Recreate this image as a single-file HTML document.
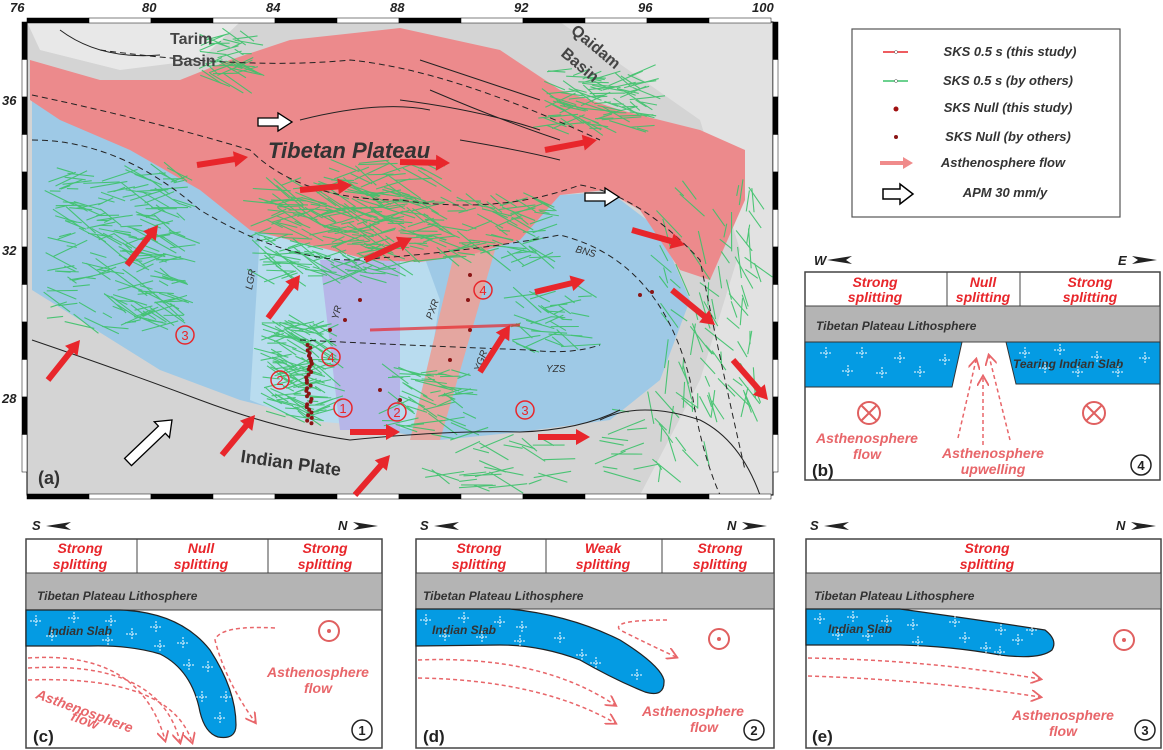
<!DOCTYPE html>
<html><head><meta charset="utf-8"><style>
html,body{margin:0;padding:0;background:#fff}
svg{display:block}
text{font-family:"Liberation Sans",sans-serif}
.r{fill:#e8262b;font-weight:bold;font-style:italic;font-size:14px;text-anchor:middle}
.lg{fill:#333;font-weight:bold;font-style:italic;font-size:13px;text-anchor:middle}
.tl{fill:#333;font-style:italic;font-weight:bold;font-size:12px}
.pk{fill:#e8666a;font-style:italic;font-weight:bold;font-size:14px;text-anchor:middle}
.ax{font-weight:bold;font-style:italic;font-size:13px;fill:#222}
</style></head><body>
<svg id="s" width="1163" height="750" viewBox="0 0 1163 750" xmlns="http://www.w3.org/2000/svg">
<defs>
<marker id="da" markerWidth="8" markerHeight="8" refX="6" refY="4" orient="auto"><path d="M0,0 L7,4 L0,8" fill="none" stroke="#e8666a" stroke-width="1.2"/></marker>
<clipPath id="mc"><rect x="27" y="22" width="746" height="473"/></clipPath>
</defs>
<g clip-path="url(#mc)">
<rect x="27" y="22" width="746" height="473" fill="#d4d4d4"/>
<path d="M27,22 L240,22 L200,60 L120,70 L40,50 Z" fill="#e8e8e8"/>
<path d="M560,22 L773,22 L773,495 L640,495 L700,380 L740,250 L700,120 Z" fill="#e2e2e2"/>
<path d="M32,100 L130,140 L200,165 L260,230 L350,235 L420,240 L480,225 L520,210 L560,195 L610,192 L660,230 L690,300 L660,380 L610,420 L520,432 L440,440 L380,430 L320,420 L240,400 L160,370 L80,320 L32,290 Z" fill="#9ec9e6"/>
<path d="M260,235 L420,245 L440,300 L420,430 L300,420 L250,400 Z" fill="#b9dcef"/>
<path d="M320,260 L400,260 L400,430 L340,430 Z" fill="#b6b6e8"/>
<path d="M455,250 L495,250 L440,440 L410,440 Z" fill="#e4a6a0"/>
<path d="M30,60 L100,80 L180,80 L230,60 L290,40 L400,28 L500,50 L560,90 L620,110 L700,130 L745,150 L745,200 L710,280 L680,270 L640,210 L605,190 L560,195 L520,240 L470,255 L420,262 L370,260 L310,245 L250,230 L200,190 L130,150 L60,120 L30,100 Z" fill="#ec8a8c"/>
<g id="green" stroke="#3cc26a" stroke-width="1.1" opacity="0.9"></g>
<g fill="none" stroke="#222" stroke-width="1">
<path d="M32,95 Q150,120 250,150 Q300,200 400,200 Q500,215 580,185 Q640,195 700,260 Q720,360 745,470" stroke-dasharray="6,4"/>
<path d="M32,140 Q120,140 200,210 Q300,270 380,258 Q480,250 560,235 Q660,260 690,380 Q700,450 720,495" stroke-dasharray="6,4"/>
<path d="M100,50 Q250,70 350,60 Q450,70 600,140" stroke-dasharray="6,4"/>
<path d="M32,340 Q120,370 200,400 Q280,430 350,440 Q450,430 520,432 Q580,430 620,410" />
<path d="M300,340 Q400,345 530,350 Q570,355 600,345" stroke-dasharray="6,4"/>
<path d="M600,420 Q640,400 700,420 Q740,440 760,495"/>
<path d="M60,30 Q100,60 160,55 M420,60 Q480,80 540,100 M430,90 Q500,120 560,140 M400,100 Q480,110 540,130 M300,120 Q380,100 430,110 M460,140 Q520,150 560,160"/>
</g>
</g>
<rect x="27" y="22" width="746" height="473" fill="none" stroke="#000" stroke-width="1"/>
<g id="ticks"></g>
<g class="ax">
<text x="10" y="12">76</text><text x="142" y="12">80</text><text x="266" y="12">84</text><text x="390" y="12">88</text><text x="514" y="12">92</text><text x="638" y="12">96</text><text x="752" y="12">100</text>
<text x="2" y="105">36</text><text x="2" y="255">32</text><text x="2" y="403">28</text>
</g>
<g fill="#444" font-weight="bold" font-size="16">
<text x="170" y="44">Tarim</text><text x="172" y="66">Basin</text>
<text transform="translate(570,32) rotate(40)">Qaidam</text><text transform="translate(560,55) rotate(40)">Basin</text>
<text x="268" y="158" font-size="22" font-style="italic" fill="#333">Tibetan Plateau</text>
<text transform="translate(240,462) rotate(8)" font-size="18" fill="#333">Indian Plate</text>
<text x="38" y="484" font-size="18" fill="#333">(a)</text>
</g>
<g fill="#333" font-size="10" font-style="italic">
<text x="575" y="252" transform="rotate(15 575 252)">BNS</text><text x="546" y="372">YZS</text>
<text transform="translate(252,290) rotate(-80)">LGR</text><text transform="translate(338,320) rotate(-75)">YR</text>
<text transform="translate(432,320) rotate(-70)">PXR</text><text transform="translate(480,372) rotate(-70)">YGR</text>
</g>
<g id="arrows"></g>
<g fill="none" stroke="#e8262b" stroke-width="1.5">
<circle cx="185" cy="335" r="9"/><circle cx="280" cy="380" r="9"/><circle cx="331" cy="357" r="9"/><circle cx="343" cy="408" r="9"/><circle cx="397" cy="412" r="9"/><circle cx="483" cy="290" r="9"/><circle cx="525" cy="410" r="9"/>
</g>
<g fill="#e8262b" font-size="13" text-anchor="middle">
<text x="185" y="340">3</text><text x="280" y="385">2</text><text x="331" y="362">4</text><text x="343" y="413">1</text><text x="397" y="417">2</text><text x="483" y="295">4</text><text x="525" y="415">3</text>
</g>
<g fill="#8a1515" id="dots"></g>
<path d="M370,330 L520,325" stroke="#e8262b" stroke-width="3" opacity="0.7"/>
<rect x="852" y="29" width="268" height="188" fill="#fff" stroke="#555" stroke-width="1.2"/>
<line x1="883" y1="52" x2="908" y2="52" stroke="#e8262b" stroke-width="1.5"/><circle cx="896" cy="52" r="1.5" fill="#fff" stroke="#555" stroke-width="0.5"/>
<line x1="883" y1="81" x2="908" y2="81" stroke="#3cc26a" stroke-width="1.5"/><circle cx="896" cy="81" r="1.5" fill="#fff" stroke="#555" stroke-width="0.5"/>
<circle cx="896" cy="109" r="2.5" fill="#a01010"/><circle cx="896" cy="137" r="2" fill="#8a1515"/>
<path d="M880,161 L903,161 L903,157 L913,163 L903,169 L903,165 L880,165 Z" fill="#f08b8b"/>
<path d="M883,189 L900,189 L900,184 L913,194 L900,204 L900,199 L883,199 Z" fill="#fff" stroke="#000" stroke-width="1.5"/>
<g class="lg"><text x="1010" y="56">SKS  0.5 s (this study)</text><text x="1008" y="85">SKS 0.5 s (by others)</text><text x="1008" y="112">SKS Null (this study)</text><text x="1008" y="141">SKS Null (by others)</text><text x="1003" y="167">Asthenosphere flow</text><text x="1005" y="197">APM 30 mm/y</text></g>
<g>
<text x="814" y="265" class="ax" font-style="normal" font-size="13">W</text><path d="M827,260 L852,256 L846,260 L852,264 Z" fill="#222"/>
<text x="1118" y="265" class="ax" font-style="normal" font-size="13">E</text><path d="M1132,256 L1157,260 L1132,264 L1138,260 Z" fill="#222"/>
<rect x="805" y="272" width="355" height="208" fill="#fff" stroke="#444" stroke-width="1.5"/>
<line x1="805" y1="306" x2="1160" y2="306" stroke="#444"/><line x1="947" y1="272" x2="947" y2="306" stroke="#444"/><line x1="1020" y1="272" x2="1020" y2="306" stroke="#444"/>
<text x="875" y="287" class="r">Strong</text><text x="875" y="302" class="r">splitting</text>
<text x="983" y="287" class="r">Null</text><text x="983" y="302" class="r">splitting</text>
<text x="1090" y="287" class="r">Strong</text><text x="1090" y="302" class="r">splitting</text>
<rect x="805" y="306" width="355" height="36" fill="#b4b4b4" stroke="#444"/>
<text x="816" y="330" class="tl">Tibetan Plateau Lithosphere</text>
<path d="M805,342 L962,342 L952,387 L805,387 Z" fill="#049be3" stroke="#333"/>
<path d="M1006,342 L1160,342 L1160,384 L1016,384 Z" fill="#049be3" stroke="#333"/>
<text x="1013" y="368" class="tl" fill="#222">Tearing Indian Slab</text>
<g fill="none" stroke="#e8666a" stroke-width="1.5" stroke-dasharray="4,3" marker-end="url(#da)"><path d="M958,438 L976,360"/><path d="M983,445 L983,377"/><path d="M1010,440 L989,356"/></g>
<g fill="none" stroke="#e06060" stroke-width="2"><circle cx="869" cy="413" r="11"/><path d="M861,405 L877,421 M877,405 L861,421"/><circle cx="1094" cy="413" r="11"/><path d="M1086,405 L1102,421 M1102,405 L1086,421"/></g>
<text x="867" y="443" class="pk">Asthenosphere</text><text x="867" y="459" class="pk">flow</text>
<text x="993" y="458" class="pk">Asthenosphere</text><text x="993" y="474" class="pk">upwelling</text>
<text x="812" y="476" font-size="17" font-weight="bold" fill="#222">(b)</text>
<circle cx="1141" cy="465" r="10" fill="none" stroke="#222" stroke-width="1.5"/><text x="1141" y="470" font-size="13" font-weight="bold" text-anchor="middle" fill="#222">4</text>
</g>
<g>
<text x="32" y="530" class="ax" font-style="normal">S</text><path d="M46,526 L71,522 L65,526 L71,530 Z" fill="#222"/>
<text x="338" y="530" class="ax" font-style="normal">N</text><path d="M353,522 L378,526 L353,530 L359,526 Z" fill="#222"/>
<rect x="26" y="539" width="356" height="209" fill="#fff" stroke="#444" stroke-width="1.5"/>
<line x1="26" y1="573" x2="382" y2="573" stroke="#444"/><line x1="137" y1="539" x2="137" y2="573" stroke="#444"/><line x1="268" y1="539" x2="268" y2="573" stroke="#444"/>
<text x="80" y="553" class="r">Strong</text><text x="80" y="569" class="r">splitting</text>
<text x="201" y="553" class="r">Null</text><text x="201" y="569" class="r">splitting</text>
<text x="325" y="553" class="r">Strong</text><text x="325" y="569" class="r">splitting</text>
<rect x="26" y="573" width="356" height="37" fill="#b4b4b4" stroke="#444"/>
<text x="37" y="600" class="tl">Tibetan Plateau Lithosphere</text>
<path d="M26,610 L120,610 Q180,612 210,650 Q236,690 236,725 Q236,740 218,737 Q205,733 200,712 Q192,670 160,654 Q130,645 90,646 L26,646 Z" fill="#049be3" stroke="#222" stroke-width="1.2"/>
<text x="48" y="635" class="tl" fill="#222">Indian Slab</text>
<g fill="none" stroke="#e8666a" stroke-width="1.5" stroke-dasharray="4,3" marker-end="url(#da)">
<path d="M28,658 Q140,650 165,740"/><path d="M28,668 Q160,660 180,742"/><path d="M28,680 Q170,675 192,742"/>
<path d="M275,628 Q220,625 215,640 Q225,680 255,722"/></g>
<circle cx="329" cy="631" r="10" fill="none" stroke="#e06060" stroke-width="2"/><circle cx="329" cy="631" r="2" fill="#e06060"/>
<text x="318" y="677" class="pk">Asthenosphere</text><text x="318" y="693" class="pk">flow</text>
<text transform="translate(35,698) rotate(20)" class="pk" style="text-anchor:start">Asthenosphere</text>
<text transform="translate(70,720) rotate(20)" class="pk" style="text-anchor:start">flow</text>
<text x="33" y="742" font-size="17" font-weight="bold" fill="#222">(c)</text>
<circle cx="362" cy="730" r="10" fill="none" stroke="#222" stroke-width="1.5"/><text x="362" y="735" font-size="13" font-weight="bold" text-anchor="middle" fill="#222">1</text>
</g>
<g>
<text x="420" y="530" class="ax" font-style="normal">S</text><path d="M434,526 L459,522 L453,526 L459,530 Z" fill="#222"/>
<text x="727" y="530" class="ax" font-style="normal">N</text><path d="M742,522 L767,526 L742,530 L748,526 Z" fill="#222"/>
<rect x="416" y="539" width="358" height="209" fill="#fff" stroke="#444" stroke-width="1.5"/>
<line x1="416" y1="573" x2="774" y2="573" stroke="#444"/><line x1="546" y1="539" x2="546" y2="573" stroke="#444"/><line x1="662" y1="539" x2="662" y2="573" stroke="#444"/>
<text x="479" y="553" class="r">Strong</text><text x="479" y="569" class="r">splitting</text>
<text x="603" y="553" class="r">Weak</text><text x="603" y="569" class="r">splitting</text>
<text x="720" y="553" class="r">Strong</text><text x="720" y="569" class="r">splitting</text>
<rect x="416" y="573" width="358" height="36" fill="#b4b4b4" stroke="#444"/>
<text x="423" y="600" class="tl">Tibetan Plateau Lithosphere</text>
<path d="M416,609 L510,609 Q570,615 620,640 Q660,665 664,680 Q665,698 645,692 Q615,680 580,660 Q540,645 500,645 L416,646 Z" fill="#049be3" stroke="#222" stroke-width="1.2"/>
<text x="432" y="634" class="tl" fill="#222">Indian Slab</text>
<g fill="none" stroke="#e8666a" stroke-width="1.5" stroke-dasharray="4,3" marker-end="url(#da)">
<path d="M418,660 Q540,655 615,705"/><path d="M418,678 Q540,680 615,723"/><path d="M667,620 Q610,620 620,630 Q650,645 676,657"/></g>
<circle cx="719" cy="639" r="10" fill="none" stroke="#e06060" stroke-width="2"/><circle cx="719" cy="639" r="2" fill="#e06060"/>
<text x="693" y="716" class="pk">Asthenosphere</text><text x="704" y="732" class="pk">flow</text>
<text x="423" y="742" font-size="17" font-weight="bold" fill="#222">(d)</text>
<circle cx="754" cy="730" r="10" fill="none" stroke="#222" stroke-width="1.5"/><text x="754" y="735" font-size="13" font-weight="bold" text-anchor="middle" fill="#222">2</text>
</g>
<g>
<text x="810" y="530" class="ax" font-style="normal">S</text><path d="M824,526 L849,522 L843,526 L849,530 Z" fill="#222"/>
<text x="1116" y="530" class="ax" font-style="normal">N</text><path d="M1131,522 L1156,526 L1131,530 L1137,526 Z" fill="#222"/>
<rect x="806" y="539" width="355" height="209" fill="#fff" stroke="#444" stroke-width="1.5"/>
<line x1="806" y1="573" x2="1161" y2="573" stroke="#444"/>
<text x="987" y="553" class="r">Strong</text><text x="987" y="569" class="r">splitting</text>
<rect x="806" y="573" width="355" height="36" fill="#b4b4b4" stroke="#444"/>
<text x="814" y="600" class="tl">Tibetan Plateau Lithosphere</text>
<path d="M806,609 L900,609 Q980,620 1045,630 Q1058,640 1052,650 Q1040,660 1000,655 Q950,646 900,645 L806,645 Z" fill="#049be3" stroke="#222" stroke-width="1.2"/>
<text x="828" y="633" class="tl" fill="#222">Indian Slab</text>
<g fill="none" stroke="#e8666a" stroke-width="1.5" stroke-dasharray="4,3" marker-end="url(#da)">
<path d="M808,658 Q930,660 1040,679"/><path d="M808,676 Q930,680 1040,697"/></g>
<circle cx="1124" cy="640" r="10" fill="none" stroke="#e06060" stroke-width="2"/><circle cx="1124" cy="640" r="2" fill="#e06060"/>
<text x="1063" y="720" class="pk">Asthenosphere</text><text x="1063" y="736" class="pk">flow</text>
<text x="812" y="742" font-size="17" font-weight="bold" fill="#222">(e)</text>
<circle cx="1145" cy="730" r="10" fill="none" stroke="#222" stroke-width="1.5"/><text x="1145" y="735" font-size="13" font-weight="bold" text-anchor="middle" fill="#222">3</text>
</g>
<g id="crosses" stroke="#fff" stroke-width="1" stroke-dasharray="2,1"></g>
</svg>
<script>
var NS="http://www.w3.org/2000/svg";
function el(p,t,a){var e=document.createElementNS(NS,t);for(var k in a)e.setAttribute(k,a[k]);document.getElementById(p).appendChild(e);return e;}
var seed=7;function rnd(){seed=(seed*16807)%2147483647;return seed/2147483647;}
var clusters=[[120,250,65,80,200],[230,60,20,25,40],[330,230,70,50,180],[300,370,30,50,120],[600,100,50,30,90],[480,230,70,30,100],[430,400,40,30,50],[710,300,50,110,80],[380,200,60,40,70],[550,320,40,30,40],[500,460,60,30,30],[680,440,70,40,30]];
clusters.forEach(function(c){for(var i=0;i<c[4];i++){var x=c[0]+(rnd()-0.5)*2*c[2],y=c[1]+(rnd()-0.5)*2*c[3];var a=(rnd()-0.5)*1.2+(x>650?1.2:0.15),l=10+rnd()*30;el("green","line",{x1:x-Math.cos(a)*l/2,y1:y-Math.sin(a)*l/2,x2:x+Math.cos(a)*l/2,y2:y+Math.sin(a)*l/2});}});
for(var i=0;i<30;i++){el("dots","circle",{cx:306+rnd()*6,cy:345+i*2.7,r:2});}
[[470,275],[468,300],[450,360],[640,295],[652,292],[330,330],[345,320],[360,300],[380,390],[400,400],[470,330]].forEach(function(p){el("dots","circle",{cx:p[0],cy:p[1],r:2});});
var A=[[197,165,248,157],[300,190,352,185],[400,162,450,163],[545,150,597,140],[268,318,300,275],[127,265,158,225],[365,260,412,238],[48,380,80,340],[222,455,255,415],[355,495,390,455],[350,432,400,432],[538,437,590,437],[535,292,585,280],[480,372,510,325],[632,230,685,245],[672,290,715,325],[733,360,768,400]];
A.forEach(function(a){var dx=a[2]-a[0],dy=a[3]-a[1],L=Math.hypot(dx,dy),ux=dx/L,uy=dy/L,nx=-uy,ny=ux,h=14,w=3,W=8;var bx=a[2]-ux*h,by=a[3]-uy*h;
var pts=[[a[0]+nx*w,a[1]+ny*w],[bx+nx*w,by+ny*w],[bx+nx*W,by+ny*W],[a[2],a[3]],[bx-nx*W,by-ny*W],[bx-nx*w,by-ny*w],[a[0]-nx*w,a[1]-ny*w]];
el("arrows","polygon",{points:pts.map(function(p){return p.join(",")}).join(" "),fill:"#e8262b"});});
[[258,122,292,122,4,9],[585,197,619,197,4,9],[128,462,172,420,5,11]].forEach(function(a){var dx=a[2]-a[0],dy=a[3]-a[1],L=Math.hypot(dx,dy),ux=dx/L,uy=dy/L,nx=-uy,ny=ux,h=14,w=a[4],W=a[5];var bx=a[2]-ux*h,by=a[3]-uy*h;
var pts=[[a[0]+nx*w,a[1]+ny*w],[bx+nx*w,by+ny*w],[bx+nx*W,by+ny*W],[a[2],a[3]],[bx-nx*W,by-ny*W],[bx-nx*w,by-ny*w],[a[0]-nx*w,a[1]-ny*w]];
el("arrows","polygon",{points:pts.map(function(p){return p.join(",")}).join(" "),fill:"#fff",stroke:"#000","stroke-width":"1.3"});});
for(var i=0;i<12;i++){var x=27+i*62;var f=i%2==0?"#000":"#fff";el("ticks","rect",{x:x,y:18,width:62,height:5,fill:f,stroke:"#000","stroke-width":0.5});el("ticks","rect",{x:x,y:494,width:62,height:5,fill:f,stroke:"#000","stroke-width":0.5});}
for(var j=0;j<13;j++){var y=22+j*37.5;if(y+37>499)break;var f=j%2==0?"#000":"#fff";el("ticks","rect",{x:22,y:y,width:5,height:37.5,fill:f,stroke:"#000","stroke-width":0.5});el("ticks","rect",{x:773,y:y,width:5,height:37.5,fill:f,stroke:"#000","stroke-width":0.5});}
[[826,353],[862,353],[900,358],[945,360],[848,371],[882,373],[920,372],[1025,353],[1060,350],[1097,357],[1145,358],[1045,368],[1078,372],[1118,372],
[36,621],[74,618],[111,621],[52,636],[108,640],[132,634],[156,627],[160,646],[183,643],[189,665],[208,667],[202,697],[226,697],[220,718],
[426,620],[464,618],[500,622],[445,636],[482,637],[522,627],[520,641],[560,638],[582,655],[560,672],[596,663],[597,683],[637,675],[638,697],
[820,619],[853,617],[887,621],[838,635],[868,636],[913,625],[955,622],[1001,630],[1032,630],[918,642],[965,638],[986,648],[1000,652],[1018,640]].forEach(function(p){el("crosses","path",{d:"M"+(p[0]-6)+","+p[1]+"h12M"+p[0]+","+(p[1]-6)+"v12"});});
</script>
</body></html>
